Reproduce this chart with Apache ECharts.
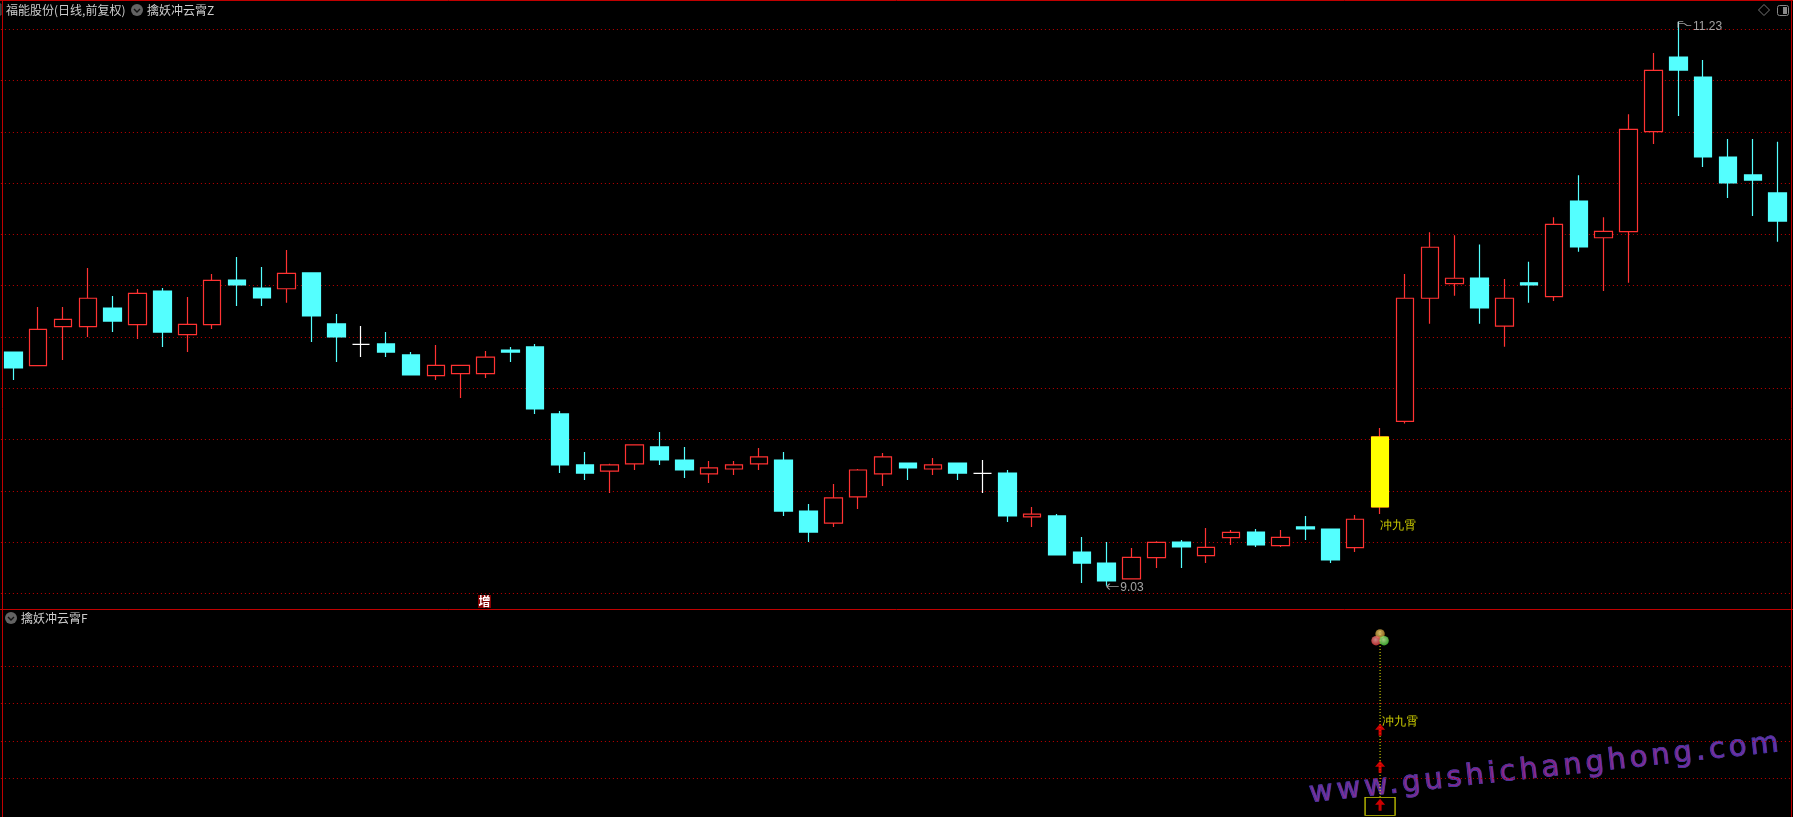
<!DOCTYPE html>
<html>
<head>
<meta charset="utf-8">
<style>
html,body{margin:0;padding:0;background:#000;overflow:hidden}
#wrap{position:relative;width:1793px;height:817px;overflow:hidden;background:#000}
#chart{position:absolute;left:0;top:0;width:1793px;height:817px}
#mark{position:absolute;left:1311px;top:773.5px;white-space:nowrap;font:29px "DejaVu Sans",sans-serif;letter-spacing:3.95px;line-height:36px;
transform-origin:0 100%;transform:rotate(-6.2deg);color:transparent;
background:linear-gradient(90deg,#80309a 0%,#95207e 45%,#8a2a95 75%,#6a30a8 100%);-webkit-background-clip:text;background-clip:text;
-webkit-text-stroke:.8px #4038a0}
</style>
</head>
<body>
<div id="wrap">
<div id="mark">www.gushichanghong.com</div>
<div id="chart"></div>
</div>
<script src="https://cdn.jsdelivr.net/npm/echarts@6/dist/echarts.min.js"></script>
<script>
const opens = [9.941,9.888,10.04,10.04,10.113,10.048,10.179,10.009,10.048,10.222,10.191,10.188,10.25,10.051,9.971,9.973,9.93,9.849,9.857,9.857,
9.949,9.961,9.70,9.501,9.477,9.505,9.571,9.52,9.466,9.485,9.505,9.52,9.321,9.274,9.376,9.466,9.508,9.485,9.508,9.468,
9.469,9.298,9.302,9.161,9.118,9.056,9.139,9.20,9.147,9.217,9.239,9.186,9.259,9.251,9.178,9.337,9.671,10.151,10.208,10.23,
10.042,10.211,10.157,10.53,10.387,10.411,10.801,11.092,11.014,10.702,10.632,10.562];
const closes = [9.879,10.03,10.069,10.151,10.062,10.17,10.019,10.049,10.221,10.203,10.152,10.248,10.082,10.0,9.971,9.941,9.852,9.889,9.889,9.921,
9.941,9.719,9.501,9.469,9.501,9.579,9.52,9.481,9.489,9.501,9.532,9.321,9.239,9.372,9.481,9.532,9.489,9.501,9.469,9.468,
9.302,9.309,9.15,9.118,9.048,9.14,9.199,9.181,9.179,9.238,9.189,9.218,9.251,9.13,9.289,9.61,10.151,10.35,10.229,10.113,
10.151,10.203,10.439,10.351,10.412,10.81,11.04,11.041,10.702,10.601,10.612,10.452];
const lows = [9.832,9.888,9.91,10.0,10.019,9.992,9.961,9.941,10.031,10.121,10.121,10.133,9.98,9.902,9.922,9.922,9.852,9.832,9.762,9.84,
9.902,9.70,9.469,9.442,9.391,9.481,9.501,9.45,9.43,9.462,9.481,9.302,9.20,9.259,9.329,9.419,9.442,9.462,9.442,9.391,
9.278,9.259,9.15,9.04,9.03,9.056,9.099,9.099,9.118,9.189,9.181,9.181,9.208,9.118,9.161,9.309,9.662,10.052,10.161,10.052,
9.962,10.133,10.14,10.332,10.179,10.211,10.753,10.862,10.663,10.542,10.472,10.371];
const highs = [9.941,10.117,10.117,10.269,10.16,10.187,10.191,10.156,10.246,10.312,10.273,10.339,10.25,10.09,10.043,10.019,9.941,9.969,9.889,9.945,
9.961,9.973,9.711,9.551,9.505,9.579,9.629,9.571,9.516,9.516,9.567,9.551,9.348,9.426,9.485,9.547,9.508,9.528,9.508,9.52,
9.481,9.337,9.309,9.22,9.20,9.177,9.203,9.208,9.255,9.247,9.251,9.247,9.302,9.251,9.306,9.645,10.246,10.408,10.397,10.361,
10.226,10.293,10.467,10.631,10.467,10.869,11.108,11.23,11.08,10.772,10.772,10.761];
const categories = opens.map((_, i) => String(i + 1));
const signalIndex = 55;
const signalName = '冲九霄';
const signalPriceLabel = 9.265;
const arrowLevels = [0.29, 1.31, 2.3];
const stemLevels = [0.5, 5.0];
const boxLevel = 0.245;
const ballLevels = [4.87, 4.69];
const signalTextLevel = 2.51;
const lowIndex = 44, lowLabel = 9.03;
const highIndex = 67, highLabel = 11.23;
const priceTicks = { min: 9, max: 11.2, interval: 0.2 };
const signalTicks = { min: 0, max: 4, interval: 1 };
const titleMain = '福能股份(日线,前复权)';
const titleUpper = '擒妖冲云霄Z';
const titleLower = '擒妖冲云霄F';
const badgeText = '增';

const RED = '#ff3232', CYAN = '#54ffff', YEL = '#ffff00', GRID = '#c00000', FRAME = '#c00000', GREY = '#cccccc';
const CJK = '"Noto Sans CJK SC","Noto Sans",sans-serif';

const splitStyle = { show: true, lineStyle: { color: GRID, width: 1, type: [1, 3] } };
const hiddenX = (g) => ({ type: 'category', gridIndex: g, data: categories, show: false, boundaryGap: true });
const noAxis = { axisLine: { show: false }, axisTick: { show: false }, axisLabel: { show: false } };

function ball(inner, outer) {
  return { type: 'radial', x: 0.45, y: 0.4, r: 0.6, colorStops: [{ offset: 0, color: inner }, { offset: 1, color: outer }] };
}
const arrowPath = 'path://M5 0 L10 6 L6.5 6 L6.5 12 L3.5 12 L3.5 6 L0 6 Z';

const chevron = (cx, cy) => ([
  { type: 'circle', silent: true, shape: { cx, cy, r: 6 }, style: { fill: '#636363' } },
  { type: 'polyline', silent: true, shape: { points: [[cx - 3, cy - 1], [cx, cy + 2], [cx + 3, cy - 1]] }, style: { stroke: '#111', lineWidth: 1.4, fill: 'none' } }
]);
const hline = (y) => ({ type: 'line', silent: true, shape: { x1: 0, y1: y, x2: 1793, y2: y }, style: { stroke: FRAME, lineWidth: 1 } });
const vline = (x, y1, y2) => ({ type: 'line', silent: true, shape: { x1: x, y1, x2: x, y2 }, style: { stroke: FRAME, lineWidth: 1 } });
const label = (x, y, text, fill) => ({ type: 'text', silent: true, x, y, style: { text, fill: fill || GREY, font: '12px ' + CJK, textVerticalAlign: 'middle' } });

const chart = echarts.init(document.getElementById('chart'), null, { renderer: 'canvas' });
chart.setOption({
  animation: false,
  backgroundColor: 'transparent',
  grid: [
    { left: 0.9, right: 2.9, top: 29.33, bottom: 223.67 },
    { left: 0.9, right: 2.9, top: 666.4, bottom: 1.4 }
  ],
  xAxis: [hiddenX(0), hiddenX(1)],
  yAxis: [
    Object.assign({ type: 'value', gridIndex: 0, min: priceTicks.min, max: priceTicks.max, interval: priceTicks.interval, splitLine: splitStyle }, noAxis),
    Object.assign({ type: 'value', gridIndex: 1, min: signalTicks.min, max: signalTicks.max, interval: signalTicks.interval,
      splitLine: Object.assign({ showMinLine: false }, splitStyle) }, noAxis)
  ],
  series: [
    {
      type: 'candlestick', xAxisIndex: 0, yAxisIndex: 0, clip: false, barWidth: 18,
      data: opens.map((o, i) => [o, closes[i], lows[i], highs[i]]),
      itemStyle: { color: '#000', color0: CYAN, borderColor: RED, borderColor0: CYAN, borderColorDoji: '#ffffff', borderWidth: 1.2 }
    },
    {
      type: 'candlestick', xAxisIndex: 0, yAxisIndex: 0, clip: false, barWidth: 18, z: 3,
      data: opens.map((o, i) => i === signalIndex ? [o, closes[i], o, closes[i]] : ['-', '-', '-', '-']),
      itemStyle: { color: YEL, color0: YEL, borderColor: YEL, borderColor0: YEL, borderWidth: 1 }
    },
    {
      type: 'scatter', xAxisIndex: 0, yAxisIndex: 0, clip: false, symbolSize: 0, z: 4,
      data: [[signalIndex, signalPriceLabel]],
      label: { show: true, position: 'right', distance: 0, color: YEL, font: '500 12px ' + CJK, formatter: () => signalName }
    },
    {
      type: 'scatter', xAxisIndex: 0, yAxisIndex: 0, clip: false, z: 4,
      symbol: 'path://M0 3 L3 0 M0 3 L3 6 M0 3 L12 3', symbolSize: [12, 6], symbolOffset: [6, 1],
      itemStyle: { color: 'none', borderColor: GREY, borderWidth: 1 },
      data: [[lowIndex, lowLabel]],
      label: { show: true, position: 'right', distance: 2, offset: [-4, 1], color: GREY, font: '12px "Liberation Sans",sans-serif', formatter: p => p.value[1].toFixed(2) }
    },
    {
      type: 'scatter', xAxisIndex: 0, yAxisIndex: 0, clip: false, z: 4,
      symbol: 'path://M0 0 L5 0 M0 0 L0 6 M0 2 L6 2 L9 4 L13 4', symbolSize: [13, 6], symbolOffset: [6.5, 3],
      itemStyle: { color: 'none', borderColor: GREY, borderWidth: 1 },
      data: [[highIndex, highLabel]],
      label: { show: true, position: 'right', distance: 2, offset: [-4, 2], color: GREY, font: '12px "Liberation Sans",sans-serif', formatter: p => p.value[1].toFixed(2) }
    },
    {
      type: 'line', xAxisIndex: 1, yAxisIndex: 1, clip: false, symbol: 'none', z: 2,
      data: stemLevels.map(v => [signalIndex, v]),
      lineStyle: { color: YEL, width: 1, type: [1, 2] }
    },
    {
      type: 'scatter', xAxisIndex: 1, yAxisIndex: 1, clip: false, z: 4,
      symbol: arrowPath, symbolSize: [10, 12], itemStyle: { color: '#ff0000' },
      data: arrowLevels.map(v => [signalIndex, v])
    },
    {
      type: 'scatter', xAxisIndex: 1, yAxisIndex: 1, clip: false, z: 3,
      symbol: 'rect', symbolSize: [30, 18],
      itemStyle: { color: 'none', borderColor: YEL, borderWidth: 1 },
      data: [[signalIndex, boxLevel]]
    },
    {
      type: 'scatter', xAxisIndex: 1, yAxisIndex: 1, clip: false, z: 5, symbol: 'circle', symbolSize: 9.5,
      data: [
        { value: [signalIndex, ballLevels[0]], itemStyle: { color: ball('#ffe080', '#b08020') } },
        { value: [signalIndex, ballLevels[1]], symbolOffset: [-4, 0], itemStyle: { color: ball('#ffa8a8', '#e03838') } },
        { value: [signalIndex, ballLevels[1]], symbolOffset: [4, 0], itemStyle: { color: ball('#c8ffa0', '#48c838') } }
      ]
    },
    {
      type: 'scatter', xAxisIndex: 1, yAxisIndex: 1, clip: false, symbolSize: 0, z: 4,
      data: [[signalIndex, signalTextLevel]],
      label: { show: true, position: 'right', distance: 2, color: YEL, font: '500 12px ' + CJK, formatter: () => signalName }
    }
  ],
  graphic: [
    hline(0.5), hline(609.5), vline(2.5, 0, 817), vline(1791.5, 0, 817),
    { type: 'rect', silent: true, shape: { x: 0, y: 4, width: 1, height: 11 }, style: { fill: 'none', stroke: '#555', lineWidth: 1 } },
    label(6, 10, titleMain),
    ...chevron(137, 10),
    label(147, 10, titleUpper),
    ...chevron(11, 618),
    label(21, 618.5, titleLower),
    { type: 'polygon', silent: true, shape: { points: [[1764, 4.5], [1769.5, 10], [1764, 15.5], [1758.5, 10]] }, style: { fill: 'none', stroke: '#777', lineWidth: 1 } },
    { type: 'rect', silent: true, shape: { x: 1777.5, y: 5.5, width: 11, height: 10, r: 2 }, style: { fill: 'none', stroke: '#888', lineWidth: 1 } },
    { type: 'rect', silent: true, shape: { x: 1783, y: 7, width: 4, height: 7 }, style: { fill: '#888' } },
    { type: 'rect', silent: true, shape: { x: 478, y: 595, width: 13, height: 13 }, style: { fill: '#800000' } },
    { type: 'text', silent: true, x: 484.5, y: 601.5, style: { text: badgeText, fill: '#fff', font: 'bold 12px ' + CJK, textAlign: 'center', textVerticalAlign: 'middle' } }
  ]
});
</script>
</body>
</html>
